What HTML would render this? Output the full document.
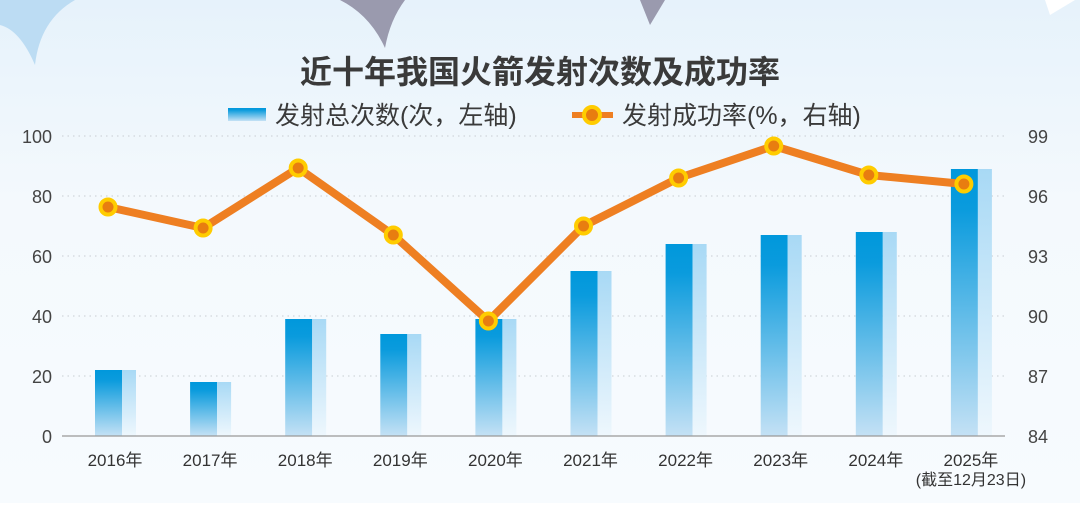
<!DOCTYPE html>
<html><head><meta charset="utf-8"><style>
body{margin:0;width:1080px;height:503px;overflow:hidden;font-family:"Liberation Sans","Noto Sans CJK SC",sans-serif;}
</style></head><body>
<svg id="chart" width="1080" height="503" xmlns="http://www.w3.org/2000/svg" font-family="Liberation Sans, Noto Sans CJK SC, sans-serif">
<defs>
<linearGradient id="bg" x1="0" y1="0" x2="0" y2="1"><stop offset="0" stop-color="#e6f2fb"/><stop offset="0.4" stop-color="#f4f9fd"/><stop offset="1" stop-color="#f7fbfe"/></linearGradient>
<linearGradient id="dark" x1="0" y1="0" x2="0" y2="1"><stop offset="0" stop-color="#0098dc"/><stop offset="0.15" stop-color="#0a9bdd"/><stop offset="1" stop-color="#c4e1f5"/></linearGradient>
<linearGradient id="light" x1="0" y1="0" x2="0" y2="1"><stop offset="0" stop-color="#a8d9f5"/><stop offset="1" stop-color="#eef7fd"/></linearGradient>
</defs>
<rect width="1080" height="503" fill="url(#bg)"/>
<path d="M0,0 L75,0 Q40,20 35,65 Q20,30 0,25 Z" fill="#bcdcf3"/>
<path d="M340,0 L405,0 Q390,20 385,48 Q370,15 340,0Z" fill="#9a9aae"/>
<path d="M640,0 L665,0 L650,25 Z" fill="#9a9aae"/>
<path d="M1045,0 L1075,0 L1050,15Z" fill="#ffffff"/>
<text x="540" y="83" text-anchor="middle" font-size="32" font-weight="bold" fill="#3a3a3a">近十年我国火箭发射次数及成功率</text>
<g>
<rect x="228" y="108" width="38" height="13" fill="url(#dark)"/>
<text x="275" y="124" font-size="25" fill="#3a3a3a">发射总次数(次，左轴)</text>
<line x1="572" y1="115" x2="613" y2="115" stroke="#ee7f22" stroke-width="6"/>
<circle cx="592" cy="115" r="8" fill="#e87d10" stroke="#ffcc00" stroke-width="4"/>
<text x="622" y="124" font-size="25" fill="#3a3a3a">发射成功率(%，右轴)</text>
</g>
<g id="grid"></g><g id="bars"></g><g id="line"></g><g id="axes"></g>
</svg>
<script>
const years=["2016年","2017年","2018年","2019年","2020年","2021年","2022年","2023年","2024年","2025年"];
const launches=[22,18,39,34,39,55,64,67,68,89];
const rate=[95.45,94.4,97.4,94.05,89.75,94.5,96.9,98.5,97.05,96.6];
const leftTicks=[0,20,40,60,80,100];
const rightTicks=[84,87,90,93,96,99];
const NS="http://www.w3.org/2000/svg";
const y0=436,y1=136;
const yL=v=>y0-(v/100)*(y0-y1);
const yR=v=>y0-((v-84)/15)*(y0-y1);
const xB=i=>95+i*95.1;
function mk(t,a,p){const e=document.createElementNS(NS,t);for(const k in a)e.setAttribute(k,a[k]);(p||document.getElementById('chart')).appendChild(e);return e;}
const grid=document.getElementById('grid'),bars=document.getElementById('bars'),line=document.getElementById('line'),axes=document.getElementById('axes');
leftTicks.forEach((t,i)=>{
 const y=yL(t);
 if(i>0){const g=mk('line',{x1:62,x2:1005,y1:y,y2:y,stroke:'#c8cdd2','stroke-width':1,'stroke-dasharray':'1.5 4'},grid);
 
 }
 const l=mk('text',{x:52,y:y+7,'text-anchor':'end','font-size':18,fill:'#444'},axes);l.textContent=t;
 
 
});
rightTicks.forEach(t=>{
 const r=mk('text',{x:1028,y:yR(t)+7,'font-size':18,fill:'#444'},axes);r.textContent=t;
 
 
});
const base=mk('line',{x1:62,x2:1005,y1:y0,y2:y0,stroke:'#999','stroke-width':1.2},axes);


launches.forEach((v,i)=>{
 const x=xB(i),y=yL(v);
 const d=mk('rect',{x:x,y:y,width:27,height:y0-y,fill:'url(#dark)'},bars);
 
 
 const l=mk('rect',{x:x+27,y:y,width:14,height:y0-y,fill:'url(#light)'},bars);
 
 
 const t=mk('text',{x:x+20,y:466,'text-anchor':'middle','font-size':17,fill:'#333'},axes);t.textContent=years[i];
 
 
});
const n=mk('text',{x:xB(9)+20,y:485,'text-anchor':'middle','font-size':16,fill:'#333'},axes);n.textContent='(截至12月23日)';


const pts=rate.map((v,i)=>[xB(i)+13,yR(v)]);
const pl=mk('polyline',{points:pts.map(p=>p.join(',')).join(' '),fill:'none',stroke:'#ee7f22','stroke-width':8,'stroke-linejoin':'round'},line);


pts.forEach((p,i)=>{
 const c=mk('circle',{cx:p[0],cy:p[1],r:7.5,fill:'#e87d10',stroke:'#ffcc00','stroke-width':4},line);
 
 
});
</script>
</body></html>
